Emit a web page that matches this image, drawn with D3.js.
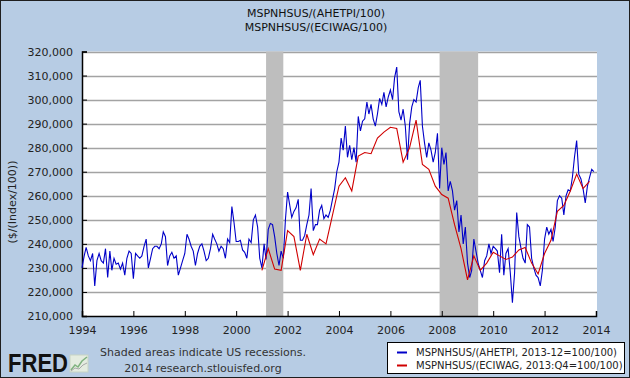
<!DOCTYPE html>
<html><head><meta charset="utf-8">
<script src="https://cdn.jsdelivr.net/npm/d3@7"></script>
<style>html,body{margin:0;padding:0;background:#fff}svg{display:block}</style>
</head><body><svg id="c" width="630" height="378"></svg>
<script>
// ---------- data ----------
const titleLines = ["MSPNHSUS/(AHETPI/100)", "MSPNHSUS/(ECIWAG/100)"];
const yLabel = "($/(Index/100))";
const seriesNames = ["MSPNHSUS/(AHETPI, 2013-12=100/100)", "MSPNHSUS/(ECIWAG, 2013:Q4=100/100)"];
const xTickYears = [1994,1996,1998,2000,2002,2004,2006,2008,2010,2012,2014];
const yTickValues = [210000,220000,230000,240000,250000,260000,270000,280000,290000,300000,310000,320000];
const recessions = [["2001-03-01","2001-11-01"],["2007-12-01","2009-06-01"]];
// monthly, Jan 1994 .. Dec 2013 (thousands)
const blueStart = "1994-01-01";
const blueValues = [
 230,235,238.5,235,233,236,222.5,233,236,233,232,238,
 226,237,229,234,231.5,232,229.5,232,227,234,237,236,
 225.5,236,235,234,235,239,242,230,234,238,239,239,
 238,240,245,243,231,235,236.5,234,235,227,230,233,
 236,244,242,239,237,231,236,239,240,237,233,234,
 238,244,242,240,237,239,238,234,242,240.5,255.5,249,
 241,241,241.5,237.5,236.5,234,242,240.5,250,252,247,234,
 230,240,233.5,246,248.5,248,243,236,231,237,234,250,
 261.5,256,251,253.5,255,258.5,241.5,241.5,243.5,248,252,263,
 245.5,248,248,254,256,250.5,252,251,254,258.5,263,270,
 274,284,279,289,276,281,275,280,274,293,287,291,
 292,299,294,298,292,289,294,300.5,298,303,297,301,
 304,300,309,313.5,295,291.5,296,289,275,290,297,300,
 299,305,308,289,282,276,282,279,274,278,286,263,
 280,273,278,262,266,262,254,258,245,252,240,247,
 232,226,229,242,237,232,229,226,233,235,240,236,
 239,238,237,228,244,227,236,238,228,215.5,228,253,
 243,238,234,232,248,247,234,230,227,226,222.5,229,
 242,247,244,246,241,247,258,260,259,252,260,262.5,
 262,268,276,283,269,267,263,257,264,267.5,271,270
];
// quarterly, 2001Q1 .. 2013Q4 (thousands)
const redStart = "2001-01-01";
const redValues = [
 229,238,229.5,229,
 245.5,243,229,244,
 235.5,242,240,252,
 264,267.5,262,276.5,
 278,277.5,284,286.5,
 288.5,288,274,280,
 291.5,273,271,264,
 260.5,259,248,238,
 225,235,229,232,
 236.5,235,233.5,234.5,
 237.5,238.5,232,227.5,
 236,241.5,253.5,256,
 262,269,263,266
];

// ---------- drawing ----------
const svg = d3.select("#c");
const font = "'DejaVu Sans', Verdana, sans-serif";
const L = 82, R = 596, T = 51.5, B = 316;
const x = d3.scaleTime().domain([new Date(1994,0,1), new Date(2014,0,1)]).range([L, R]);
const y = d3.scaleLinear().domain([210000, 320000]).range([B, T]);

svg.append("rect").attr("x",0.5).attr("y",0.5).attr("width",629).attr("height",377)
  .attr("fill","#B7CCE4").attr("stroke","#1e1e1e").attr("stroke-width",1);

// titles
svg.selectAll("text.title").data(titleLines).enter().append("text")
  .attr("x",316).attr("y",(d,i)=>17+i*13.5).attr("text-anchor","middle")
  .attr("font-family",font).attr("font-size",11).attr("fill","#111").text(d=>d);

// plot background
svg.append("rect").attr("x",L).attr("y",T).attr("width",R-L+1).attr("height",B-T).attr("fill","#fff");

// gridlines
svg.append("g").selectAll("line").data(yTickValues.filter(v=>v>210000)).enter().append("line")
  .attr("x1",L).attr("x2",R+1).attr("y1",d=>Math.round(y(d))+0.5).attr("y2",d=>Math.round(y(d))+0.5)
  .attr("stroke","#a3a3a3").attr("stroke-width",1.3);

// recession shading
svg.append("g").selectAll("rect").data(recessions).enter().append("rect")
  .attr("x",d=>x(new Date(d[0]+"T00:00"))).attr("width",d=>x(new Date(d[1]+"T00:00"))-x(new Date(d[0]+"T00:00")))
  .attr("y",T).attr("height",B-T).attr("fill","#BEBEBE");

// axes
const yAxis = d3.axisLeft(y).tickValues(yTickValues).tickFormat(d3.format(",")).tickSize(-5).tickPadding(9);
const gy = svg.append("g").attr("transform",`translate(${L},0)`).call(yAxis);
const xAxis = d3.axisBottom(x).tickValues(xTickYears.map(v=>new Date(v,0,1))).tickFormat(d3.timeFormat("%Y")).tickSize(-5).tickPadding(8);
const gx = svg.append("g").attr("transform",`translate(0,${B})`).call(xAxis);
[gx,gy].forEach(g=>{
  g.select(".domain").attr("stroke","#000").attr("stroke-width",1.5);
  g.selectAll(".tick line").attr("stroke","#000");
  g.selectAll("text").attr("font-family",font).attr("font-size",11).attr("fill","#222");
});
gx.selectAll("text").attr("dy","0.9em");

// y label
svg.append("text").attr("transform","translate(16,202) rotate(-90)").attr("text-anchor","middle")
  .attr("font-family",font).attr("font-size",11).attr("fill","#222").text(yLabel);

// series
const blue = blueValues.map((v,i)=>({d:d3.timeMonth.offset(new Date(blueStart+"T00:00"),i), v:v*1000}));
const red = redValues.map((v,i)=>({d:d3.timeMonth.offset(new Date(redStart+"T00:00"),i*3), v:v*1000}));
const line = d3.line().x(p=>x(p.d)).y(p=>y(p.v));
svg.append("path").datum(blue).attr("d",line).attr("fill","none").attr("stroke","#0000C8").attr("stroke-width",1.1);
svg.append("path").datum(red).attr("d",line).attr("fill","none").attr("stroke","#D00000").attr("stroke-width",1.1);

// footer
const fred = svg.append("g");
fred.append("text").attr("x",8).attr("y",372).attr("font-family","'Liberation Sans', Arial, sans-serif")
  .attr("font-weight","bold").attr("font-size",25).attr("textLength",60).attr("lengthAdjust","spacingAndGlyphs")
  .attr("fill","#111").text("FRED");
fred.append("rect").attr("x",70).attr("y",355).attr("width",18).attr("height",17).attr("fill","#E4ECE0").attr("stroke","#C8D4C4");
fred.append("polyline").attr("points","71,370 75,365 78,367 82,361 87,357").attr("fill","none").attr("stroke","#7FB27F").attr("stroke-width",1.5);
fred.append("polyline").attr("points","71,371 75,368 79,369 83,365 87,363").attr("fill","none").attr("stroke","#A8A8A8").attr("stroke-width",1);

svg.append("text").attr("x",203).attr("y",356).attr("text-anchor","middle").attr("font-family",font)
  .attr("font-size",11).attr("fill","#333").text("Shaded areas indicate US recessions.");
svg.append("text").attr("x",203).attr("y",372).attr("text-anchor","middle").attr("font-family",font)
  .attr("font-size",11).attr("fill","#333").text("2014 research.stlouisfed.org");

// legend
const lg = svg.append("g");
lg.append("rect").attr("x",387.5).attr("y",342.5).attr("width",237).attr("height",31).attr("fill","#fff").attr("stroke","#000");
const legendColors = ["#0000C8","#D00000"];
seriesNames.forEach((n,i)=>{
  lg.append("line").attr("x1",397).attr("x2",407).attr("y1",352.5+i*13).attr("y2",352.5+i*13)
    .attr("stroke",legendColors[i]).attr("stroke-width",2);
  lg.append("text").attr("x",416).attr("y",356+i*13).attr("font-family",font).attr("font-size",10)
    .attr("fill","#222").text(n);
});
</script></body></html>
